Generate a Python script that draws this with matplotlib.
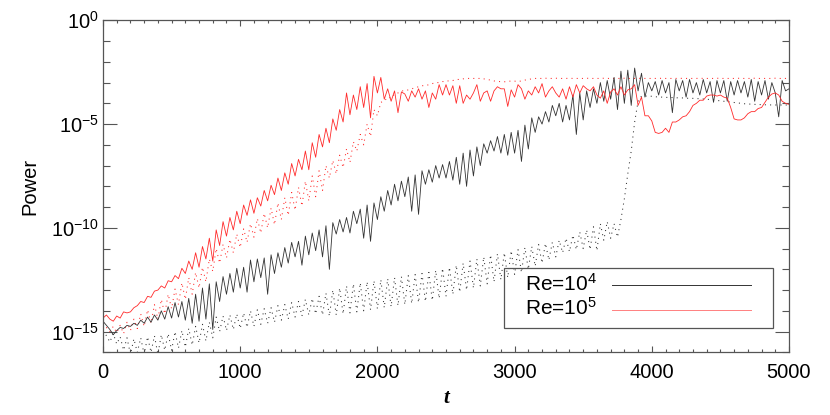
import numpy as np
import matplotlib
matplotlib.use('Agg')
import matplotlib.pyplot as plt
from matplotlib.ticker import FixedLocator, MultipleLocator, NullFormatter
from matplotlib.patches import Rectangle

plt.rcParams['font.family'] = ['Liberation Sans', 'DejaVu Sans']
plt.rcParams['mathtext.fontset'] = 'custom'
plt.rcParams['mathtext.rm'] = 'Liberation Sans'
plt.rcParams['mathtext.it'] = 'Liberation Sans:italic'
plt.rcParams['mathtext.bf'] = 'Liberation Sans:bold'

# time axis, one sample every 25 units
t = np.arange(0, 5001, 25)

# log10(Power)
re4_solid = [
    -14.50, -14.70, -14.90, -15.15, -14.95, -14.80, -14.85, -14.70, -14.75, -14.60,
    -14.70, -14.45, -14.60, -14.30, -14.55, -14.20, -14.45, -14.00, -14.40, -13.80,
    -14.35, -13.60, -14.30, -13.55, -14.45, -13.40, -14.60, -13.20, -14.50, -12.90,
    -14.40, -12.70, -14.90, -12.60, -13.55, -12.35, -13.20, -12.20, -13.10, -11.95,
    -12.90, -11.90, -13.10, -11.55, -12.60, -11.50, -12.40, -11.45, -13.20, -11.30,
    -12.20, -11.20, -11.90, -10.95, -11.70, -10.70, -11.40, -10.65, -11.80, -10.40,
    -11.30, -10.25, -11.10, -10.10, -11.40, -9.90, -12.00, -9.75, -10.30, -9.60,
    -10.20, -9.50, -10.25, -9.20, -9.80, -9.10, -10.50, -8.90, -10.65, -8.80,
    -9.60, -8.50, -9.20, -8.20, -8.90, -7.90, -8.70, -7.75, -8.50, -7.55,
    -9.20, -7.45, -9.35, -7.25, -7.90, -7.20, -7.80, -7.00, -7.60, -6.95,
    -7.60, -6.80, -7.70, -6.60, -7.90, -6.40, -8.00, -6.25, -7.50, -6.10,
    -7.00, -5.95, -6.40, -5.80, -6.30, -5.60, -6.40, -5.50, -6.50, -5.40,
    -6.40, -5.30, -6.80, -5.05, -6.20, -4.70, -5.40, -4.65, -5.00, -4.40,
    -4.90, -4.10, -4.60, -4.00, -4.90, -4.10, -4.80, -3.60, -5.50, -3.50,
    -4.80, -3.40, -4.20, -3.30, -4.00, -3.00, -3.90, -2.90, -3.80, -2.75,
    -4.30, -2.45, -4.00, -2.40, -4.10, -2.30, -3.40, -2.55, -3.70, -3.00,
    -3.40, -2.95, -3.60, -2.90, -3.50, -3.00, -4.45, -2.85, -3.40, -2.90,
    -3.70, -2.85, -3.50, -3.00, -3.60, -2.85, -3.50, -2.95, -3.95, -2.90,
    -3.50, -2.90, -3.90, -2.95, -3.60, -2.90, -3.50, -2.95, -3.70, -2.85,
    -3.90, -2.95, -3.60, -2.90, -3.80, -3.00, -3.50, -4.65, -2.90, -3.40,
    -3.30]

re4_dotted = [
    -14.95, -15.20, -15.50, -15.10, -15.60, -15.25, -15.90, -15.30, -16.10, -15.35,
    -16.00, -15.30, -16.10, -15.25, -16.00, -15.20, -16.10, -15.15, -15.90, -15.10,
    -15.90, -15.00, -15.80, -14.95, -15.75, -14.85, -15.65, -14.75, -15.55, -14.65,
    -15.45, -14.55, -15.30, -14.30, -15.00, -14.25, -14.95, -14.20, -14.90, -14.15,
    -14.85, -14.10, -14.80, -14.00, -14.75, -13.95, -14.65, -13.90, -14.60, -13.85,
    -14.55, -13.75, -14.45, -13.70, -14.40, -13.60, -14.30, -13.55, -14.25, -13.45,
    -14.20, -13.40, -14.15, -13.30, -14.20, -13.15, -14.25, -13.00, -14.20, -12.90,
    -14.15, -12.80, -14.10, -12.70, -14.05, -12.65, -14.00, -12.60, -13.95, -12.55,
    -13.90, -12.50, -13.85, -12.45, -13.80, -12.40, -13.75, -12.35, -13.70, -12.30,
    -13.65, -12.25, -13.60, -12.20, -13.55, -12.15, -13.50, -12.05, -13.40, -11.95,
    -13.30, -11.90, -13.20, -11.80, -13.10, -11.70, -13.00, -11.60, -12.90, -11.50,
    -12.80, -11.40, -12.70, -11.30, -12.60, -11.25, -12.50, -11.20, -12.40, -11.10,
    -12.25, -11.05, -12.15, -10.95, -12.00, -10.90, -11.85, -10.80, -11.70, -10.75,
    -11.55, -10.70, -11.40, -10.60, -11.20, -10.50, -11.15, -10.35, -11.05, -10.20,
    -11.00, -10.10, -11.05, -9.95, -11.10, -9.80, -10.60, -9.70, -10.50, -9.80,
    -10.45, -9.60, -8.60, -7.40, -6.30, -4.90, -3.90, -3.65, -3.65, -3.65,
    -3.66, -3.68, -3.70, -3.70, -3.71, -3.72, -3.72, -3.73, -3.74, -3.74,
    -3.75, -3.76, -3.76, -3.77, -3.78, -3.79, -3.80, -3.82, -3.84, -3.86,
    -3.88, -3.90, -3.92, -3.94, -3.96, -3.98, -4.00, -4.02, -4.03, -4.04,
    -4.05, -4.06, -4.06, -4.07, -4.07, -4.08, -4.08, -4.08, -4.08, -4.08,
    -4.08]

re5_solid = [
    -14.35, -14.20, -14.40, -14.50, -14.25, -14.35, -14.05, -14.10, -14.05, -13.85,
    -13.75, -13.55, -13.60, -13.30, -13.35, -13.05, -13.00, -12.80, -12.90, -12.55,
    -12.60, -12.30, -12.45, -11.95, -12.20, -11.60, -12.00, -11.20, -11.90, -10.90,
    -11.50, -10.50, -11.60, -10.10, -10.85, -9.70, -10.40, -9.50, -10.10, -9.20,
    -9.80, -8.90, -9.40, -8.65, -9.30, -8.55, -8.95, -8.20, -8.70, -7.95,
    -8.40, -7.60, -8.20, -7.35, -7.90, -6.90, -7.50, -6.70, -7.20, -6.30,
    -7.20, -5.90, -6.60, -5.50, -6.10, -5.20, -5.90, -4.75, -5.30, -4.30,
    -4.90, -3.50, -4.55, -3.60, -4.30, -3.20, -4.20, -3.05, -4.70, -2.70,
    -3.50, -2.75, -3.80, -3.30, -3.90, -3.40, -4.45, -3.45, -3.55, -3.90,
    -3.40, -3.70, -3.30, -3.80, -3.40, -4.20, -3.50, -3.80, -3.10, -3.60,
    -3.10, -3.60, -3.15, -4.00, -3.15, -4.00, -3.60, -3.80, -3.50, -3.10,
    -3.90, -3.50, -3.40, -3.90, -3.40, -3.20, -3.30, -3.30, -4.15, -3.35,
    -3.70, -3.10, -3.30, -3.80, -3.40, -3.60, -3.20, -3.50, -3.05, -3.70,
    -3.40, -3.20, -3.50, -3.70, -3.30, -3.80, -3.20, -3.70, -3.10, -3.50,
    -3.15, -3.30, -3.40, -3.20, -3.60, -3.75, -3.40, -4.00, -3.45, -3.30,
    -3.60, -3.20, -3.60, -3.35, -3.30, -3.10, -4.10, -3.70, -4.60, -4.60,
    -4.85, -5.40, -5.45, -5.40, -5.20, -5.40, -4.90, -4.90, -4.80, -4.65,
    -4.60, -4.40, -4.10, -4.00, -3.85, -3.85, -3.65, -3.60, -3.60, -3.65,
    -3.60, -3.70, -3.75, -4.20, -4.75, -4.80, -4.80, -4.70, -4.50, -4.40,
    -4.40, -4.25, -4.20, -3.95, -3.70, -3.55, -3.50, -3.60, -3.90, -4.00,
    -4.05]

re5_dotted = [
    -14.60, -14.80, -15.00, -14.75, -15.05, -14.70, -15.10, -14.55, -14.95, -14.40,
    -14.85, -14.15, -14.75, -13.95, -14.60, -13.70, -14.40, -13.45, -14.15, -13.20,
    -13.90, -12.95, -13.70, -12.65, -13.45, -12.40, -13.20, -12.15, -12.90, -11.90,
    -12.60, -11.50, -12.10, -11.00, -11.70, -10.80, -11.45, -10.55, -11.20, -10.30,
    -10.95, -10.05, -10.70, -9.80, -10.45, -9.55, -10.25, -9.30, -10.00, -9.05,
    -9.85, -8.80, -9.60, -8.55, -9.40, -8.30, -9.15, -8.05, -8.95, -7.75,
    -8.70, -7.50, -8.50, -7.25, -8.20, -7.00, -7.60, -6.75, -7.40, -6.50,
    -7.10, -6.20, -6.85, -5.85, -6.30, -5.50, -6.00, -5.00, -5.60, -4.30,
    -4.60, -3.95, -3.90, -3.70, -3.75, -3.55, -3.50, -3.40, -3.40, -3.35,
    -3.30, -3.25, -3.20, -3.15, -3.15, -3.10, -3.05, -3.00, -3.00, -2.95,
    -2.95, -2.90, -2.90, -2.85, -2.85, -2.82, -2.80, -2.80, -2.80, -2.80,
    -2.80, -2.82, -2.85, -2.88, -2.92, -2.95, -2.95, -2.96, -2.95, -2.92,
    -2.93, -2.95, -2.92, -2.88, -2.85, -2.82, -2.80, -2.80, -2.80, -2.79,
    -2.80, -2.80, -2.79, -2.80, -2.80, -2.80, -2.79, -2.80, -2.80, -2.80,
    -2.80, -2.79, -2.80, -2.80, -2.80, -2.80, -2.79, -2.80, -2.80, -2.80,
    -2.80, -2.80, -2.79, -2.80, -2.80, -2.80, -2.80, -2.79, -2.80, -2.80,
    -2.80, -2.80, -2.80, -2.79, -2.80, -2.80, -2.80, -2.80, -2.79, -2.80,
    -2.80, -2.80, -2.80, -2.80, -2.79, -2.80, -2.80, -2.80, -2.80, -2.79,
    -2.80, -2.80, -2.80, -2.80, -2.80, -2.79, -2.80, -2.80, -2.80, -2.80,
    -2.79, -2.80, -2.80, -2.80, -2.80, -2.80, -2.79, -2.80, -2.80, -2.80,
    -2.80]

legend_labels = [r'Re=$10^{4}$', r'Re=$10^{5}$']
ytick_vals = [1e0, 1e-5, 1e-10, 1e-15]
ytick_labels = [r'$10^{0}$', r'$10^{-5}$', r'$10^{-10}$', r'$10^{-15}$']

axis_col = '#555555'
black = '#333333'
red = '#ff2a2a'
dots = (0, (1, 4))

fig = plt.figure(figsize=(8.3, 4.15), dpi=100)
ax = fig.add_axes([0.1241, 0.151, 0.8265, 0.800])

ax.plot(t, 10 ** np.array(re4_dotted), color=black, lw=0.75, ls=dots)
ax.plot(t, 10 ** np.array(re5_dotted), color=red, lw=0.75, ls=dots)
ax.plot(t, 10 ** np.array(re4_solid), color=black, lw=0.6)
ax.plot(t, 10 ** np.array(re5_solid), color=red, lw=0.6)

ax.set_yscale('log')
ax.set_xlim(0, 5000)
ax.set_ylim(1e-16, 1e0)

ax.xaxis.set_major_locator(MultipleLocator(1000))
ax.xaxis.set_minor_locator(MultipleLocator(100))
ax.yaxis.set_major_locator(FixedLocator(ytick_vals))
ax.yaxis.set_minor_locator(FixedLocator([10.0 ** -k for k in range(17) if k % 5]))
ax.yaxis.set_minor_formatter(NullFormatter())
ax.set_yticklabels(ytick_labels)

ax.tick_params(which='both', direction='in', top=True, right=True, color=axis_col, width=0.8)
ax.tick_params(axis='x', which='major', length=4.3, pad=8, labelsize=14.5)
ax.tick_params(axis='x', which='minor', length=2.2)
ax.tick_params(axis='y', which='major', length=10, pad=3, labelsize=14.5)
ax.tick_params(axis='y', which='minor', length=5)
for s in ax.spines.values():
    s.set_color(axis_col)
    s.set_linewidth(0.9)

ax.set_ylabel('Power', fontsize=14.5, labelpad=8)
ax.set_xlabel('t', fontsize=15, family='Liberation Serif', style='italic',
              weight='bold', labelpad=4)

# legend drawn IDL-style: right aligned labels, line sample on the right
ax.add_patch(Rectangle((0.5845, 0.0732), 0.392, 0.181, transform=ax.transAxes,
                       fill=False, ec=axis_col, lw=0.9, zorder=5))
for lab, col, ty, ly in zip(legend_labels, [black, '#ff8080'], [0.2048, 0.1325], [0.2018, 0.1274]):
    ax.text(0.7197, ty, lab, transform=ax.transAxes, ha='right', va='center',
            fontsize=15, zorder=6)
    ax.plot([0.7424, 0.9441], [ly, ly], transform=ax.transAxes, color=col,
            lw=0.7, zorder=6)

fig.savefig('out.png', dpi=100)
